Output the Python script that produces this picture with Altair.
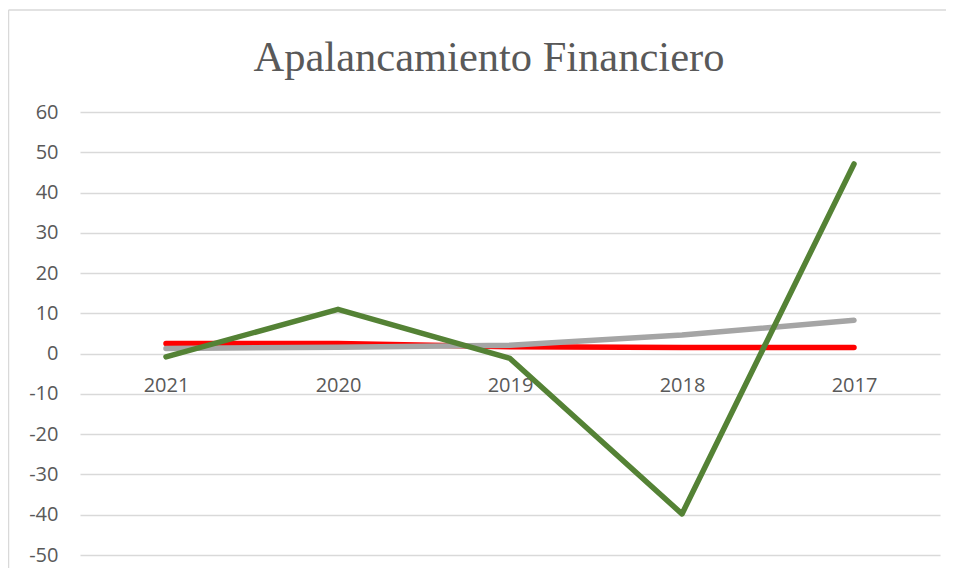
import altair as alt
import pandas as pd

years = ["2021", "2020", "2019", "2018", "2017"]
serie_roja = [2.5, 2.5, 1.7, 1.5, 1.5]
serie_gris = [1.3, 1.6, 2.1, 4.6, 8.3]
serie_verde = [-0.8, 11.0, -1.2, -39.8, 47.1]
y_ticks = [-50, -40, -30, -20, -10, 0, 10, 20, 30, 40, 50, 60]
title_text = ["Apalancamiento Financiero"]

rows = []
for name, vals in [("roja", serie_roja), ("gris", serie_gris), ("verde", serie_verde)]:
    for yr, v in zip(years, vals):
        rows.append({"year": yr, "value": v, "serie": name})
df = pd.DataFrame(rows)

W, H = 860, 443
zero_offset = -(0 - (-50)) / 110 * H

x_enc = alt.X(
    "year:N",
    sort=years,
    title=None,
    axis=alt.Axis(
        orient="bottom",
        offset=zero_offset,
        domain=False,
        ticks=False,
        grid=False,
        labelAngle=0,
        labelFont="Open Sans",
        labelFontSize=20,
        labelColor="#595959",
        labelPadding=22,
    ),
)
y_enc = alt.Y(
    "value:Q",
    title=None,
    scale=alt.Scale(domain=[-50, 60], nice=False, zero=False),
    axis=alt.Axis(
        values=y_ticks,
        labelExpr="toString(datum.value)",
        domain=False,
        ticks=False,
        grid=True,
        gridColor="#d9d9d9",
        gridWidth=1.5,
        labelFont="Open Sans",
        labelFontSize=20,
        labelColor="#595959",
        labelPadding=22,
    ),
)

base = alt.Chart(df)

def line_for(name, color):
    return base.transform_filter(alt.datum.serie == name).mark_line(
        color=color, strokeWidth=5.5, strokeCap="round", strokeJoin="round"
    ).encode(x=x_enc, y=y_enc)

one = pd.DataFrame({"a": [0]})
border_left = alt.Chart(one).mark_rule(
    color="#d9d9d9", strokeWidth=1.5, clip=False
).encode(x=alt.value(-71.5), y=alt.value(-102), y2=alt.value(470))
border_top = alt.Chart(one).mark_rule(
    color="#d9d9d9", strokeWidth=1.5, clip=False
).encode(x=alt.value(-71.5), x2=alt.value(866), y=alt.value(-102))

title_mark = alt.Chart(pd.DataFrame({"t": title_text})).mark_text(
    font="Liberation Serif",
    fontSize=42.5,
    color="#595959",
    align="center",
    baseline="alphabetic",
    clip=False,
).encode(text="t:N", x=alt.value(409), y=alt.value(-41))

chart = alt.layer(
    border_left,
    border_top,
    title_mark,
    line_for("roja", "#ff0000"),
    line_for("gris", "#a5a5a5"),
    line_for("verde", "#548235"),
).properties(
    width=W,
    height=H,
    padding={"left": 72, "top": 104, "right": 6, "bottom": 13},
    autosize=alt.AutoSizeParams(type="none"),
).configure(background="white").configure_view(strokeWidth=0, stroke="transparent")

chart.save("out.html", embed_options={"renderer": "svg", "actions": False})
